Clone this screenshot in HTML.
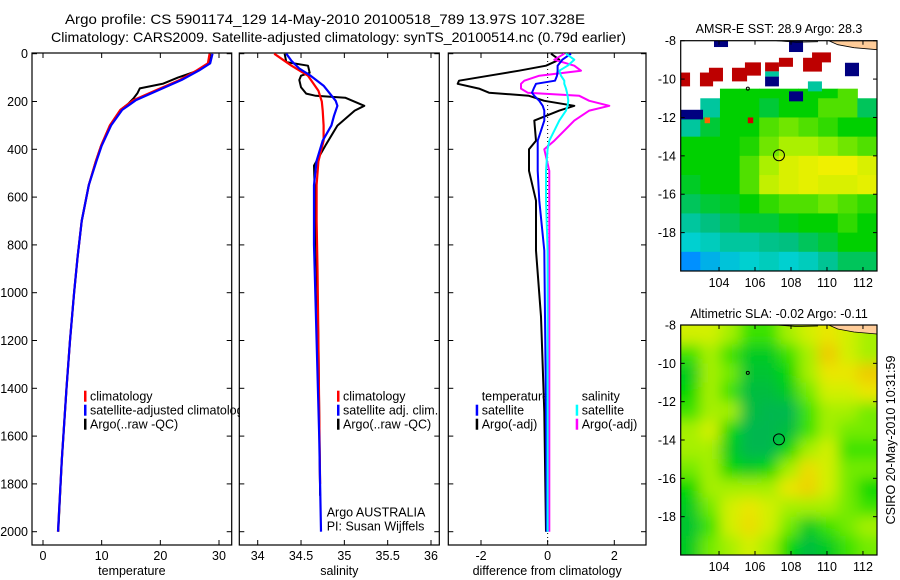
<!DOCTYPE html>
<html><head><meta charset="utf-8"><style>
html,body{margin:0;padding:0;background:#fff;}
svg{display:block;font-family:"Liberation Sans",sans-serif;}
</style></head><body>
<svg id="fig" width="900" height="580" viewBox="0 0 900 580" xmlns="http://www.w3.org/2000/svg">
<defs>
<filter id="slablur" x="-10%" y="-10%" width="120%" height="120%"><feGaussianBlur stdDeviation="7"/></filter>
<clipPath id="clipSST"><rect x="680.7" y="40.7" width="196.3" height="230.3"/></clipPath>
<clipPath id="clipSLA"><rect x="680.7" y="325" width="196.3" height="230"/></clipPath>
<clipPath id="clipP1"><rect x="32" y="53" width="208" height="492"/></clipPath>
</defs>
<rect width="900" height="580" fill="#fff"/>
<text x="65" y="24" font-size="14" textLength="520" lengthAdjust="spacingAndGlyphs">Argo profile: CS 5901174_129 14-May-2010 20100518_789 13.97S 107.328E</text>
<text x="51" y="42" font-size="14" textLength="575" lengthAdjust="spacingAndGlyphs">Climatology: CARS2009. Satellite-adjusted climatology: synTS_20100514.nc (0.79d earlier)</text>
<text x="779" y="33" font-size="12.5" text-anchor="middle">AMSR-E SST: 28.9 Argo: 28.3</text>
<text x="779" y="318" font-size="12.5" text-anchor="middle">Altimetric SLA: -0.02 Argo: -0.11</text>
<text transform="translate(895,440) rotate(-90)" font-size="12.5" text-anchor="middle">CSIRO 20-May-2010 10:31:59</text>
<g id="layer"></g>
</svg>
<script>
// ---------- profile data ----------
const climDepth = [0,40,70,110,150,195,235,300,385,450,550,700,850,1000,1200,1400,1700,2000];
const climTemp  = [28.4,28.1,26.2,23.3,19.5,15.4,13.2,11.4,9.9,9.0,7.8,6.6,5.9,5.3,4.6,4.0,3.2,2.55];
const satTemp   = [28.9,28.5,26.6,23.6,19.9,15.8,13.5,11.6,10.0,9.1,7.8,6.6,5.9,5.3,4.6,4.0,3.2,2.55];
const argoDepth = [0,20,40,70,100,125,145,165,185,210,235,300,385,450,550,700,850,1000,1200,1400,1700,2000];
const argoTemp  = [28.5,28.4,28.2,26.5,23.0,20.5,16.5,16.1,15.5,14.5,13.2,11.4,9.9,9.0,7.8,6.6,5.9,5.3,4.6,4.0,3.2,2.6];

const salDepth   = [0,50,92,155,200,238,300,364,450,550,700,900,1200,1500,1800];
const climSal    = [34.19,34.39,34.58,34.70,34.74,34.75,34.76,34.76,34.70,34.68,34.68,34.69,34.70,34.71,34.72];
const satSalDepth= [0,30,62,92,134,197,218,260,300,364,448,550,800,1200,1600,2000];
const satSal     = [34.33,34.39,34.48,34.61,34.76,34.90,34.92,34.88,34.85,34.75,34.68,34.65,34.65,34.68,34.71,34.73];
const argoSalDepth=[0,35,50,80,92,110,140,167,176,184,218,238,301,385,468,600,900,1200,1500,1850];
const argoSal    = [34.31,34.33,34.58,34.60,34.50,34.48,34.50,34.56,34.67,35.01,35.23,35.12,34.92,34.78,34.65,34.66,34.68,34.70,34.71,34.72];

const diffDepth  = [0,25,50,71,92,113,126,146,163,176,197,218,238,280,364,400,490,615,824,1100,1500,2000];
const diffTempArgo=[0.1,0.35,-0.05,-0.86,-1.76,-2.66,-2.7,-2.06,-1.76,-0.56,-0.1,0.8,0.35,-0.4,-0.35,-0.56,-0.56,-0.35,-0.35,-0.2,-0.1,-0.05];
const diffTempSat= [0.7,0.44,0.3,0.3,0.28,0.22,-0.35,-0.42,-0.47,-0.4,-0.25,-0.15,-0.1,-0.1,-0.3,-0.3,-0.3,-0.25,-0.1,-0.08,-0.05,-0.03];
const diffSalSat = [0.55,0.8,0.6,0.35,0.4,0.5,0.5,0.55,0.58,0.6,0.62,0.6,0.55,0.35,0.05,0.0,-0.05,-0.05,0.0,0.0,0.0,0.0];
const diffSalArgo= [0.5,0.2,0.8,1.0,-0.25,-0.7,-0.8,-0.8,-0.6,0.95,1.25,1.85,1.25,0.8,0.2,-0.1,0.05,0.05,0.05,0.05,0.05,0.05];

const depthTicks = [0,200,400,600,800,1000,1200,1400,1600,1800,2000];
const tempTicks = [0,10,20,30];
const salTicks = [34,34.5,35,35.5,36];
const diffTicks = [-2,0,2];

// ---------- map data ----------
const sstRows = [
 [null,null,0.55,0.55,0.55,0.55,0.55,0.55,0.60,null],
 [null,0.45,0.55,0.55,0.52,0.55,0.55,0.60,0.60,0.50],
 [0.45,0.52,0.55,0.55,0.60,0.62,0.60,0.58,0.55,0.55],
 [0.55,0.55,0.55,0.57,0.62,0.66,0.66,0.64,0.62,0.60],
 [0.55,0.55,0.55,0.60,0.66,0.70,0.71,0.72,0.72,0.70],
 [0.53,0.55,0.55,0.60,0.68,0.70,0.71,0.70,0.70,0.71],
 [0.50,0.52,0.53,0.55,0.58,0.60,0.60,0.62,0.60,0.58],
 [0.45,0.48,0.50,0.52,0.52,0.54,0.55,0.55,0.58,0.55],
 [0.40,0.42,0.45,0.45,0.47,0.48,0.50,0.52,0.55,0.55],
 [0.30,0.35,0.38,0.40,0.42,0.40,0.42,0.46,0.50,0.50]
];
const sstRowLats = [-10.5,-11,-12,-13,-14,-15,-16,-17,-18,-19,-20];
const sstPatches = [
 [103.72,104.5,-8,-8.33,0.0],[107.89,108.67,-8,-8.59,0.0],
 [109.17,110.22,-8.61,-9.13,0.97],[108.67,109.72,-8.89,-9.61,0.97],
 [107.33,108.11,-8.89,-9.36,0.97],[106.56,107.33,-9.13,-9.6,0.97],
 [105.44,106.33,-9.13,-9.82,0.97],[104.72,105.56,-9.41,-10.12,0.97],
 [103.44,104.22,-9.41,-10.12,0.97],[102.94,103.67,-9.66,-10.38,0.97],
 [101.87,102.39,-9.66,-10.38,0.97],[106.56,107.33,-9.6,-9.87,0.45],
 [106.56,107.33,-9.87,-10.38,0.0],[111.0,111.78,-9.15,-9.85,0.0],
 [108.94,109.72,-10.12,-10.64,0.45],[107.89,108.67,-10.64,-11.16,0.0],
 [101.87,103.11,-11.6,-12.1,0.0],[103.2,103.5,-12.0,-12.3,0.85],
 [105.6,105.9,-12.0,-12.3,0.95]
];
const slaRows = [
 [0.7,0.7,0.6,0.4,0.4,0.6,0.7,0.8,0.7,0.6],
 [0.4,0.6,0.4,0.2,0.2,0.4,0.6,0.95,0.7,0.6],
 [0.2,0.6,0.5,0.15,0.15,0.3,0.6,0.8,0.8,0.95],
 [0.3,0.6,0.4,0.1,0.1,0.2,0.5,0.7,0.7,0.8],
 [0.4,0.6,0.6,0.1,0.05,0.05,0.4,0.6,0.6,0.5],
 [0.6,0.7,0.3,0.05,0.05,0.1,0.4,0.6,0.5,0.5],
 [0.6,0.6,0.2,0.05,0.05,0.3,0.6,0.7,0.4,0.4],
 [0.5,0.6,0.3,0.2,0.3,0.6,0.85,0.7,0.5,0.5],
 [0.3,0.6,0.6,0.6,0.6,0.8,0.9,0.7,0.5,0.3],
 [0.2,0.5,0.7,0.8,0.7,0.6,0.6,0.6,0.5,0.4],
 [0.15,0.4,0.7,0.85,0.7,0.5,0.2,0.4,0.5,0.6],
 [0.2,0.5,0.6,0.7,0.6,0.3,0.1,0.2,0.4,0.5]
];
const argoLon = 107.33, argoLat = -13.97;
const lonTicks = [104,106,108,110,112];
const latTicks = [-8,-10,-12,-14,-16,-18];

// ---------- helpers ----------
const NS = "http://www.w3.org/2000/svg";
const layer = document.getElementById('layer');
function mk(tag, attrs, parent){ const e=document.createElementNS(NS,tag); for(const k in attrs) e.setAttribute(k,attrs[k]); (parent||layer).appendChild(e); return e; }
function txt(s, attrs, parent){ const e=mk('text',attrs,parent); e.textContent=s; return e; }

const Y0=53, Y1=545;
const yDepth = d => 53.7 + d*0.239;
function linX(v0,v1,x0,x1){ return v => x0 + (v-v0)/(v1-v0)*(x1-x0); }
const panels = [
 {name:'temperature-panel', x0:32, x1:231.7, f:linX(0,30,43,219), ticks:tempTicks, label:'temperature'},
 {name:'salinity-panel', x0:239.3, x1:439.3, f:linX(34,36,257.7,431), ticks:salTicks, label:'salinity'},
 {name:'difference-panel', x0:448.3, x1:646, f:linX(-2,2,481,614.3), ticks:diffTicks, label:'difference from climatology'}
];

function drawAxes(p, i){
  const g = mk('g',{});
  
  
  const r = mk('rect',{x:p.x0,y:Y0,width:p.x1-p.x0,height:Y1-Y0,fill:'none',stroke:'#000','stroke-width':1.2},g);
  
  
  p.ticks.forEach(v=>{
    const x=p.f(v);
    mk('line',{x1:x,x2:x,y1:Y1,y2:Y1-5,stroke:'#000'},g);
    mk('line',{x1:x,x2:x,y1:Y0,y2:Y0+5,stroke:'#000'},g);
    const t=txt(String(v),{x:x,y:560,'font-size':12.5,'text-anchor':'middle'},g);
    
    
  });
  const xl=txt(p.label,{x:(p.x0+p.x1)/2,y:575,'font-size':12.5,'text-anchor':'middle'},g);
  
  
  depthTicks.forEach(d=>{
    const y=yDepth(d);
    mk('line',{x1:p.x0,x2:p.x0+5,y1:y,y2:y,stroke:'#000'},g);
    mk('line',{x1:p.x1,x2:p.x1-5,y1:y,y2:y,stroke:'#000'},g);
    if(i===0){
      const t=txt(String(d),{x:28,y:y+4.5,'font-size':12.5,'text-anchor':'end'},g);
      
      
    }
  });
}
panels.forEach(drawAxes);

function line(xs, ds, fx, color, name, w){
  const pts = xs.map((v,k)=>fx(v).toFixed(1)+','+yDepth(ds[k]).toFixed(1)).join(' ');
  const e = mk('polyline',{points:pts,fill:'none',stroke:color,'stroke-width':w||2,'stroke-linejoin':'round'});
  
  
  return e;
}
function legend(items, x, y0, parent){
  items.forEach((it,k)=>{
    const y=y0+k*14;
    if(it.c) mk('rect',{x:x-6,y:y-10,width:2.5,height:11,fill:it.c},parent);
    const t=txt(it.t,{x:x,y:y,'font-size':12.5},parent);
    
    
  });
}

// panel 1
const lg1 = mk('g',{'clip-path':'url(#clipP1)'});


legend([{t:'climatology',c:'#f00'},{t:'satellite-adjusted climatology',c:'#00f'},{t:'Argo(..raw -QC)',c:'#000'}],90,400.7,lg1);
line(argoTemp, argoDepth, panels[0].f, '#000', 'temperature-argo-line', 2);
line(climTemp, climDepth, panels[0].f, '#f00', 'temperature-climatology-line', 2.2);
line(satTemp, climDepth, panels[0].f, '#00f', 'temperature-satellite-line', 2.2);

// panel 2
legend([{t:'climatology',c:'#f00'},{t:'satellite adj. clim.',c:'#00f'},{t:'Argo(..raw -QC)',c:'#000'}],343,400.7);
line(argoSal, argoSalDepth, panels[1].f, '#000', 'salinity-argo-line', 2);
line(climSal, salDepth, panels[1].f, '#f00', 'salinity-climatology-line', 2.2);
line(satSal, satSalDepth, panels[1].f, '#00f', 'salinity-satellite-line', 2.2);
const ai=txt('Argo AUSTRALIA',{x:326.7,y:516.7,'font-size':12.5});  
const pi=txt('PI: Susan Wijffels',{x:326.7,y:530.7,'font-size':12.5});  

// panel 3
const zl = mk('line',{x1:panels[2].f(0),x2:panels[2].f(0),y1:Y0,y2:Y1,stroke:'#000','stroke-dasharray':'1,3'});
 
legend([{t:'temperature'},{t:'satellite',c:'#00f'},{t:'Argo(-adj)',c:'#000'}],481.7,400.7);
legend([{t:'salinity'},{t:'satellite',c:'#0ff'},{t:'Argo(-adj)',c:'#f0f'}],581.7,400.7);
line(diffTempArgo, diffDepth, panels[2].f, '#000', 'diff-temp-argo-line', 2);
line(diffSalArgo, diffDepth, panels[2].f, '#f0f', 'diff-sal-argo-line', 2);
line(diffTempSat, diffDepth, panels[2].f, '#00f', 'diff-temp-satellite-line', 2);
line(diffSalSat, diffDepth, panels[2].f, '#0ff', 'diff-sal-satellite-line', 2);

// ---------- maps ----------
const MX0=680.7, MX1=877, LON0=101.87, LON1=112.78;
const lonX = lon => MX0 + (lon-LON0)/(LON1-LON0)*(MX1-MX0);
function rgb(a){ return 'rgb('+a.map(Math.round).join(',')+')'; }
function interpColor(stops, v){
  if(v<=stops[0][0]) return rgb(stops[0][1]);
  for(let k=1;k<stops.length;k++){ if(v<=stops[k][0]){ const a=stops[k-1],b=stops[k],t=(v-a[0])/(b[0]-a[0]);
    return rgb([0,1,2].map(j=>a[1][j]+(b[1][j]-a[1][j])*t)); } }
  return rgb(stops[stops.length-1][1]);
}
const sstStops=[[0,[0,0,128]],[0.15,[0,0,255]],[0.3,[0,144,255]],[0.4,[0,208,208]],[0.48,[0,192,128]],[0.55,[0,208,0]],[0.65,[160,240,0]],[0.72,[240,240,0]],[0.82,[255,160,0]],[0.9,[255,0,0]],[1,[160,0,0]]];
const slaStops=[[0,[0,176,96]],[0.3,[0,216,0]],[0.55,[144,240,0]],[0.75,[232,240,0]],[1,[240,192,0]]];

function drawMap(name, Y0m, Y1m, clip, latTop, latBot){
  const latY = lat => Y0m + (latTop-lat)/(latTop-latBot)*(Y1m-Y0m);
  const g = mk('g',{'clip-path':'url(#'+clip+')'});
  
  
  return {g, latY};
}
const sst = drawMap('sst-map', 40.7, 271, 'clipSST', -8, -20);
const nCol = 10, colW = (LON1-LON0)/nCol;
sstRows.forEach((row,r)=>{
  row.forEach((v,c)=>{
    if(v===null) return;
    const x=lonX(LON0+c*colW), x2=lonX(LON0+(c+1)*colW);
    const y=sst.latY(sstRowLats[r]), y2=sst.latY(sstRowLats[r+1]);
    const e=mk('rect',{x:x,y:y,width:x2-x+0.5,height:y2-y+0.5,fill:interpColor(sstStops,v)},sst.g);
    
    
  });
});
sstPatches.forEach(p=>{
  const x=lonX(p[0]), x2=lonX(p[1]), y=sst.latY(p[2]), y2=sst.latY(p[3]);
  const e=mk('rect',{x:x,y:y,width:x2-x,height:y2-y,fill:interpColor(sstStops,p[4])},sst.g);
  
  
});
const sla = drawMap('sla-map', 325, 555, 'clipSLA', -8, -20);
const slaInner = mk('g',{filter:'url(#slablur)'},sla.g);
slaRows.forEach((row,r)=>{
  row.forEach((v,c)=>{
    let x=lonX(LON0+c*colW), x2=lonX(LON0+(c+1)*colW);
    let y=sla.latY(-8-r), y2=sla.latY(-9-r);
    if(c===0) x-=20; if(c===nCol-1) x2+=20; if(r===0) y-=20; if(r===slaRows.length-1) y2+=20;
    const e=mk('rect',{x:x,y:y,width:x2-x+0.5,height:y2-y+0.5,fill:interpColor(slaStops,v)},slaInner);
    
    
  });
});

[[sst,40.7,271],[sla,325,555]].forEach(([m,ya,yb],k)=>{
  const g=m.g;
  mk('polygon',{points:`${lonX(110.1)},${ya} ${lonX(112.8)},${ya} ${lonX(112.8)},${ya+9} ${lonX(111.5)},${ya+7} ${lonX(110.6)},${ya+4}`,fill:'#ffcc99',stroke:'#000','stroke-width':0.8},g);
  mk('polyline',{points:`${lonX(107.2)},${ya} ${lonX(108.3)},${ya+1.5} ${lonX(109.5)},${ya+1}`,fill:'none',stroke:'#000','stroke-width':0.8},g);
  const cx=lonX(argoLon), cy=m.latY(argoLat);
  const c=mk('circle',{cx:cx,cy:cy,r:5.5,fill:'none',stroke:'#000','stroke-width':1});
  
  
  mk('circle',{cx:lonX(105.6),cy:m.latY(-10.5),r:1.5,fill:'none',stroke:'#000','stroke-width':1});
  const fr=mk('rect',{x:MX0,y:ya,width:MX1-MX0,height:yb-ya,fill:'none',stroke:'#000','stroke-width':1.2});
  
  
  lonTicks.forEach(l=>{
    const x=lonX(l);
    mk('line',{x1:x,x2:x,y1:yb,y2:yb-4,stroke:'#000'});
    mk('line',{x1:x,x2:x,y1:ya,y2:ya+4,stroke:'#000'});
    const t=txt(String(l),{x:x,y:yb+16,'font-size':12.5,'text-anchor':'middle'});
    
    
  });
  latTicks.forEach(l=>{
    const y=m.latY(l);
    mk('line',{x1:MX0,x2:MX0+4,y1:y,y2:y,stroke:'#000'});
    mk('line',{x1:MX1,x2:MX1-4,y1:y,y2:y,stroke:'#000'});
    const t=txt(String(l),{x:676,y:y+4.5,'font-size':12.5,'text-anchor':'end'});
    
    
  });
});
</script>
</body></html>
